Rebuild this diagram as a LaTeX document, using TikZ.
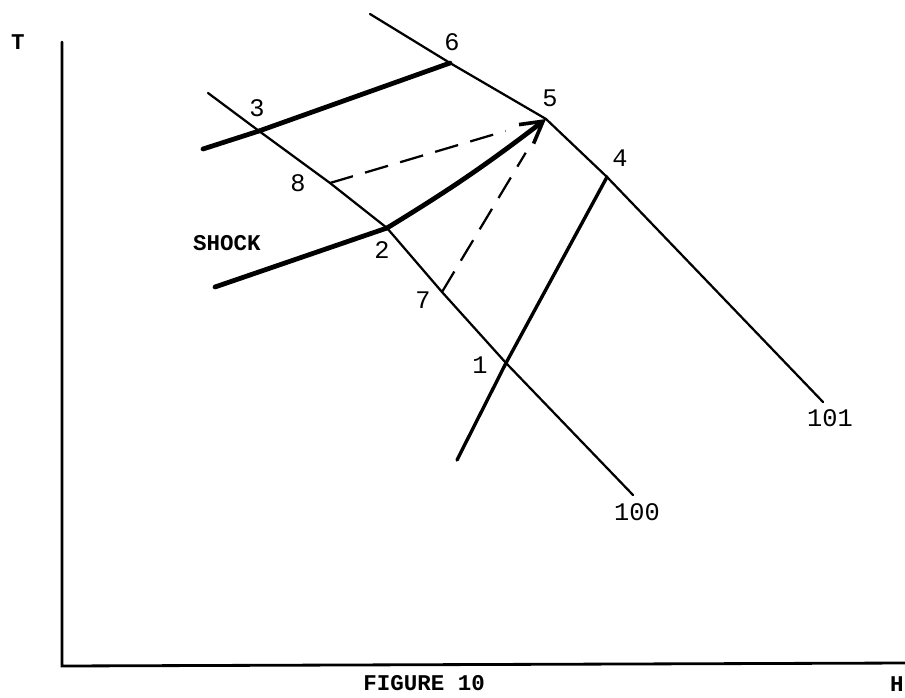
\documentclass[tikz,border=0pt]{standalone}
\usepackage{fontspec}
\setmainfont{Liberation Mono}
\usepackage{tikz}
\usetikzlibrary{arrows.meta}
\tikzset{
  axisline/.style={line width=2pt,line cap=round},
  charline/.style={line width=1.6pt,line join=round,line cap=round},
  shockline/.style={line width=3.4pt,line join=round,line cap=round},
  pathline/.style={line width=1.6pt,dash pattern=on 17pt off 9pt},
  ptlabel/.style={font=\fontsize{18}{21}\selectfont,inner sep=0pt},
  txtlabel/.style={font=\bfseries\fontsize{16}{19}\selectfont,inner sep=0pt}
}

\begin{document}
\begin{tikzpicture}[x=0.025cm,y=-0.025cm]
\useasboundingbox (0,0) rectangle (905,697);

% axes
\coordinate (ytop)   at (62,42);
\coordinate (origin) at (62,666);
\coordinate (xend)   at (905,663);
\draw[axisline] (ytop) -- (origin) -- (xend);
\node[txtlabel] (tlab) at (18,42) {T};
\node[txtlabel,anchor=east] (hlab) at (904,684) {H};
\node[txtlabel,anchor=west] (figlab) at (363,683) {FIGURE 10};

% points
\coordinate (a100) at (208,93);
\coordinate (p3)   at (259,131);
\coordinate (p8)   at (330,183);
\coordinate (p2)   at (387,228);
\coordinate (p7)   at (442,292);
\coordinate (p1)   at (506,363);
\coordinate (e100) at (633,495);
\coordinate (a101) at (370,14);
\coordinate (p6)   at (450,63);
\coordinate (p5)   at (546,119);
\coordinate (p4)   at (607,177);
\coordinate (e101) at (823,402);
\coordinate (e41)  at (457,460);
\coordinate (s3)   at (203,149);
\coordinate (s2)   at (215,287);

% characteristics
\draw[charline] (a100) -- (p3) -- (p8) -- (p2) -- (p7) -- (p1) -- (e100);
\draw[charline] (a101) -- (p6) -- (p5) -- (p4) -- (e101);
\draw[charline,line width=2.4pt] (p4) -- (p1) -- (e41);

% shocks
\draw[shockline] (s3) -- (p3) -- (p6);
\draw[shockline] (s2) -- (p2);
\draw[shockline,-{Straight Barb[length=15pt,width=17pt,line width=2.6pt]}] (p2) to[bend right=3] (p5);

% dashed paths
\draw[pathline,shorten >=30pt] (p8) -- (p5);
\draw[pathline,shorten >=28pt] (p7) -- (p5);

% labels
\node[ptlabel] (l3) at (257,108) {3};
\node[ptlabel] (l6) at (452,42) {6};
\node[ptlabel] (l5) at (550,98) {5};
\node[ptlabel] (l4) at (620,158) {4};
\node[ptlabel] (l8) at (298,183) {8};
\node[ptlabel] (l2) at (382,250) {2};
\node[ptlabel] (l7) at (423,300) {7};
\node[ptlabel] (l1) at (480,365) {1};
\node[ptlabel] (l100) at (637,512) {100};
\node[ptlabel] (l101) at (830,418) {101};
\node[txtlabel] (shock) at (227,243) {SHOCK};

\end{tikzpicture}
\end{document}
